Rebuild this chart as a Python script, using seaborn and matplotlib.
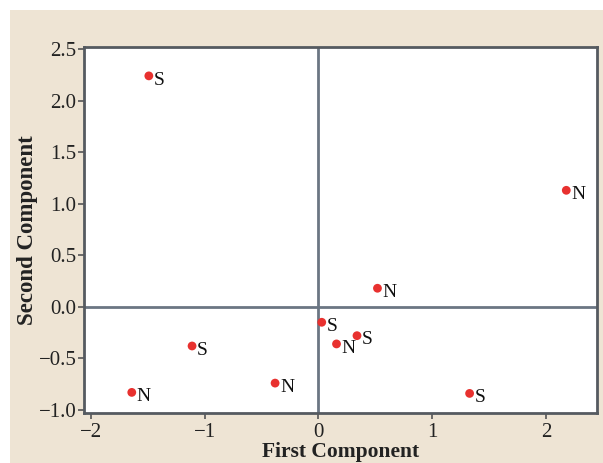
import numpy as np
import pandas as pd
import matplotlib
matplotlib.use("Agg")
import matplotlib.pyplot as plt
import seaborn as sns
from matplotlib.patches import Rectangle

# Data
first_comp = [-1.49, 2.18, 0.52, 0.03, 0.34, 0.16, -1.11, -1.64, -0.38, 1.33]
second_comp = [2.24, 1.13, 0.18, -0.15, -0.28, -0.36, -0.38, -0.83, -0.74, -0.84]
labels = ["S", "N", "N", "S", "S", "N", "S", "N", "N", "S"]

df = pd.DataFrame({"first": first_comp, "second": second_comp, "label": labels})

sns.set_theme(style="white")
plt.rcParams["font.family"] = ["Liberation Serif", "DejaVu Serif"]

fig = plt.figure(figsize=(6.03, 4.63), dpi=100, facecolor="white")
# beige panel behind the chart
fig.patches.append(Rectangle((10 / 603, 0), 593 / 603, 453 / 463, transform=fig.transFigure,
                             facecolor="#eee4d4", edgecolor="none", zorder=-10))
ax = fig.add_axes([84 / 603, 50 / 463, 513 / 603, 366 / 463])
ax.set_facecolor("white")

ax.axhline(0, color="#6b7683", linewidth=2, zorder=1)
ax.axvline(0, color="#6b7683", linewidth=2, zorder=1)

sns.scatterplot(data=df, x="first", y="second", color="#e8312f", s=40,
                edgecolor="none", ax=ax, zorder=3)

for x, y, t in zip(first_comp, second_comp, labels):
    ax.annotate(t, (x, y), xytext=(3.5, -3), textcoords="offset points",
                fontsize=14, color="#111111", va="center", ha="left")

ax.set_xlim(-2.06, 2.45)
ax.set_ylim(-1.03, 2.52)
ax.set_xticks([-2, -1, 0, 1, 2])
ax.set_xticklabels(["\u22122", "\u22121", "0", "1", "2"])
ax.set_yticks(np.arange(-1.0, 2.51, 0.5))
ax.set_yticklabels([("\u2212" if v < 0 else "") + f"{abs(v):.1f}" for v in np.arange(-1.0, 2.51, 0.5)])

ax.tick_params(axis="both", which="both", direction="out", length=4, width=1.2,
               color="#555555", labelsize=15, labelcolor="#222222", pad=1.5,
               left=True, bottom=True)
ax.tick_params(axis="x", pad=3)

for side in ["left", "bottom", "right", "top"]:
    ax.spines[side].set_color("#555a60")
    ax.spines[side].set_linewidth(2)

ax.set_xlabel("First Component", fontsize=15.5, fontweight="bold", color="#222222", labelpad=0)
ax.set_ylabel("Second Component", fontsize=16.5, fontweight="bold", color="#222222", labelpad=0)

plt.savefig("out.png", dpi=100, facecolor="white")
plt.close()
